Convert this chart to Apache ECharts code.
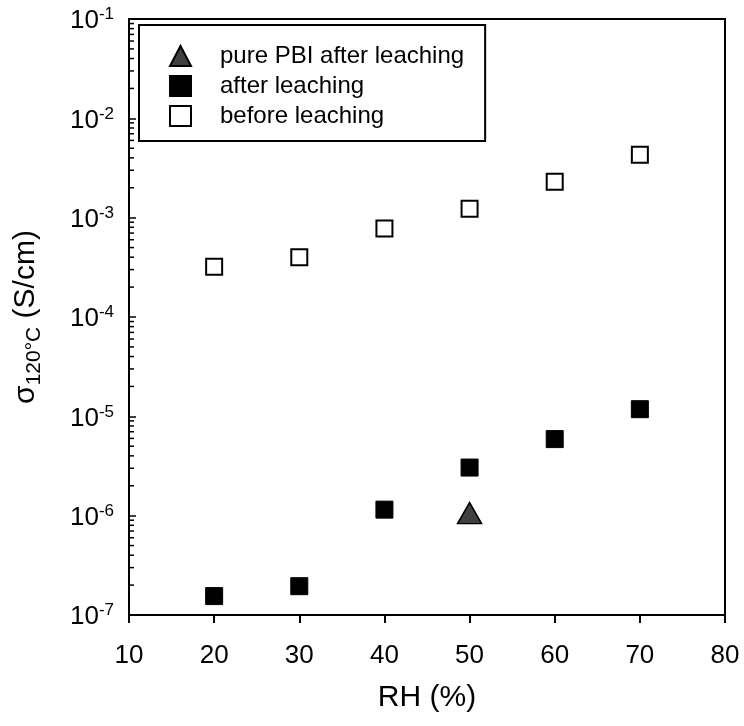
<!DOCTYPE html>
<html>
<head>
<meta charset="utf-8">
<script src="https://cdn.jsdelivr.net/npm/echarts@6/dist/echarts.min.js"></script>
<style>
  html, body { margin: 0; padding: 0; background: #fff; }
  #chart { width: 744px; height: 726px; }
</style>
</head>
<body>
<div id="chart"></div>
<script>
// relative humidity (%)
var rh = [20, 30, 40, 50, 60, 70]
// conductivity at 120 C (S/cm)
var beforeLeaching = [3.2e-4, 4.0e-4, 7.8e-4, 1.23e-3, 2.3e-3, 4.3e-3]
var afterLeaching = [1.55e-7, 1.95e-7, 1.15e-6, 3.05e-6, 5.9e-6, 1.18e-5]
var purePbiRh = [50]
var purePbi = [1.06e-6]
var xTicks = [10, 20, 30, 40, 50, 60, 70, 80]
var yDecades = [-7, -6, -5, -4, -3, -2, -1]

var font = '"Liberation Sans", Arial, sans-serif'

function pairs(xs, ys) {
  return xs.map(function (x, i) { return [x, ys[i]] })
}

// minor log ticks 2..9 in every decade
var minorTicks = []
yDecades.slice(0, -1).forEach(function (d) {
  for (var k = 2; k <= 9; k++) minorTicks.push([xTicks[0], k * Math.pow(10, d)])
})

var chart = echarts.init(document.getElementById('chart'))
var option = {
  animation: false,
  textStyle: { fontFamily: font, color: '#000' },
  grid: {
    left: 129,
    right: 19,
    top: 19,
    bottom: 111,
    show: true,
    borderColor: '#000',
    borderWidth: 2
  },
  legend: {
    orient: 'vertical',
    left: 139,
    top: 25,
    padding: [19, 21, 13, 30],
    backgroundColor: '#fff',
    borderColor: '#000',
    borderWidth: 2,
    itemWidth: 21,
    itemHeight: 20,
    itemGap: 6,
    textStyle: {
      fontFamily: font,
      fontSize: 24,
      color: '#000',
      padding: [0, 0, 0, 24]
    },
    data: [
      { name: 'pure PBI after leaching', icon: 'triangle' },
      { name: 'after leaching', icon: 'rect' },
      { name: 'before leaching', icon: 'rect' }
    ]
  },
  xAxis: {
    type: 'value',
    min: 10,
    max: 80,
    interval: 10,
    name: 'RH (%)',
    nameLocation: 'middle',
    nameGap: 68,
    nameTextStyle: { fontSize: 30, fontFamily: font, color: '#000' },
    axisLine: { lineStyle: { color: '#000', width: 2 } },
    axisTick: { show: true, length: 8, lineStyle: { color: '#000', width: 2 } },
    axisLabel: { fontSize: 26, fontFamily: font, color: '#000', margin: 28 },
    splitLine: { show: false }
  },
  yAxis: {
    type: 'log',
    logBase: 10,
    min: 1e-7,
    max: 1e-1,
    name: '{a|σ}{sub|120°C}{a| (S/cm)}',
    nameLocation: 'middle',
    nameRotate: 90,
    nameGap: 84,
    nameTextStyle: {
      fontFamily: font,
      color: '#000',
      rich: {
        a: { fontSize: 30, fontFamily: font, color: '#000', lineHeight: 38, verticalAlign: 'middle' },
        sub: { fontSize: 21, fontFamily: font, color: '#000', lineHeight: 38, verticalAlign: 'bottom' }
      }
    },
    axisLine: { show: true, lineStyle: { color: '#000', width: 2 } },
    axisTick: { show: true, inside: true, length: 7, lineStyle: { color: '#000', width: 1.5 } },
    axisLabel: {
      margin: 15,
      formatter: function (v) {
        return '{b|10}{s|' + Math.round(Math.log10(v)) + '}'
      },
      rich: {
        b: { fontSize: 26, fontFamily: font, color: '#000', lineHeight: 26, verticalAlign: 'middle', padding: [4, 0, 0, 0] },
        s: { fontSize: 17, fontFamily: font, color: '#000', lineHeight: 26, verticalAlign: 'top' }
      }
    },
    splitLine: { show: false }
  },
  series: [
    {
      name: 'pure PBI after leaching',
      type: 'scatter',
      symbol: 'triangle',
      symbolSize: [24, 21],
      itemStyle: { color: '#404040', borderColor: '#000', borderWidth: 1.5, opacity: 1 },
      data: pairs(purePbiRh, purePbi),
      z: 3
    },
    {
      name: 'after leaching',
      type: 'scatter',
      symbol: 'rect',
      symbolSize: 17,
      itemStyle: { color: '#000', borderColor: '#000', borderWidth: 1, opacity: 1 },
      data: pairs(rh, afterLeaching),
      z: 3
    },
    {
      name: 'before leaching',
      type: 'scatter',
      symbol: 'rect',
      symbolSize: 16,
      itemStyle: { color: '#fff', borderColor: '#000', borderWidth: 2, opacity: 1 },
      data: pairs(rh, beforeLeaching),
      z: 3
    },
    {
      name: 'minor ticks',
      type: 'custom',
      silent: true,
      clip: false,
      data: minorTicks,
      renderItem: function (params, api) {
        var p = api.coord([api.value(0), api.value(1)])
        return {
          type: 'line',
          shape: { x1: p[0], y1: p[1], x2: p[0] + 5, y2: p[1] },
          style: { stroke: '#000', lineWidth: 1.5 }
        }
      },
      z: 4
    }
  ]
}
chart.setOption(option)
</script>
</body>
</html>
